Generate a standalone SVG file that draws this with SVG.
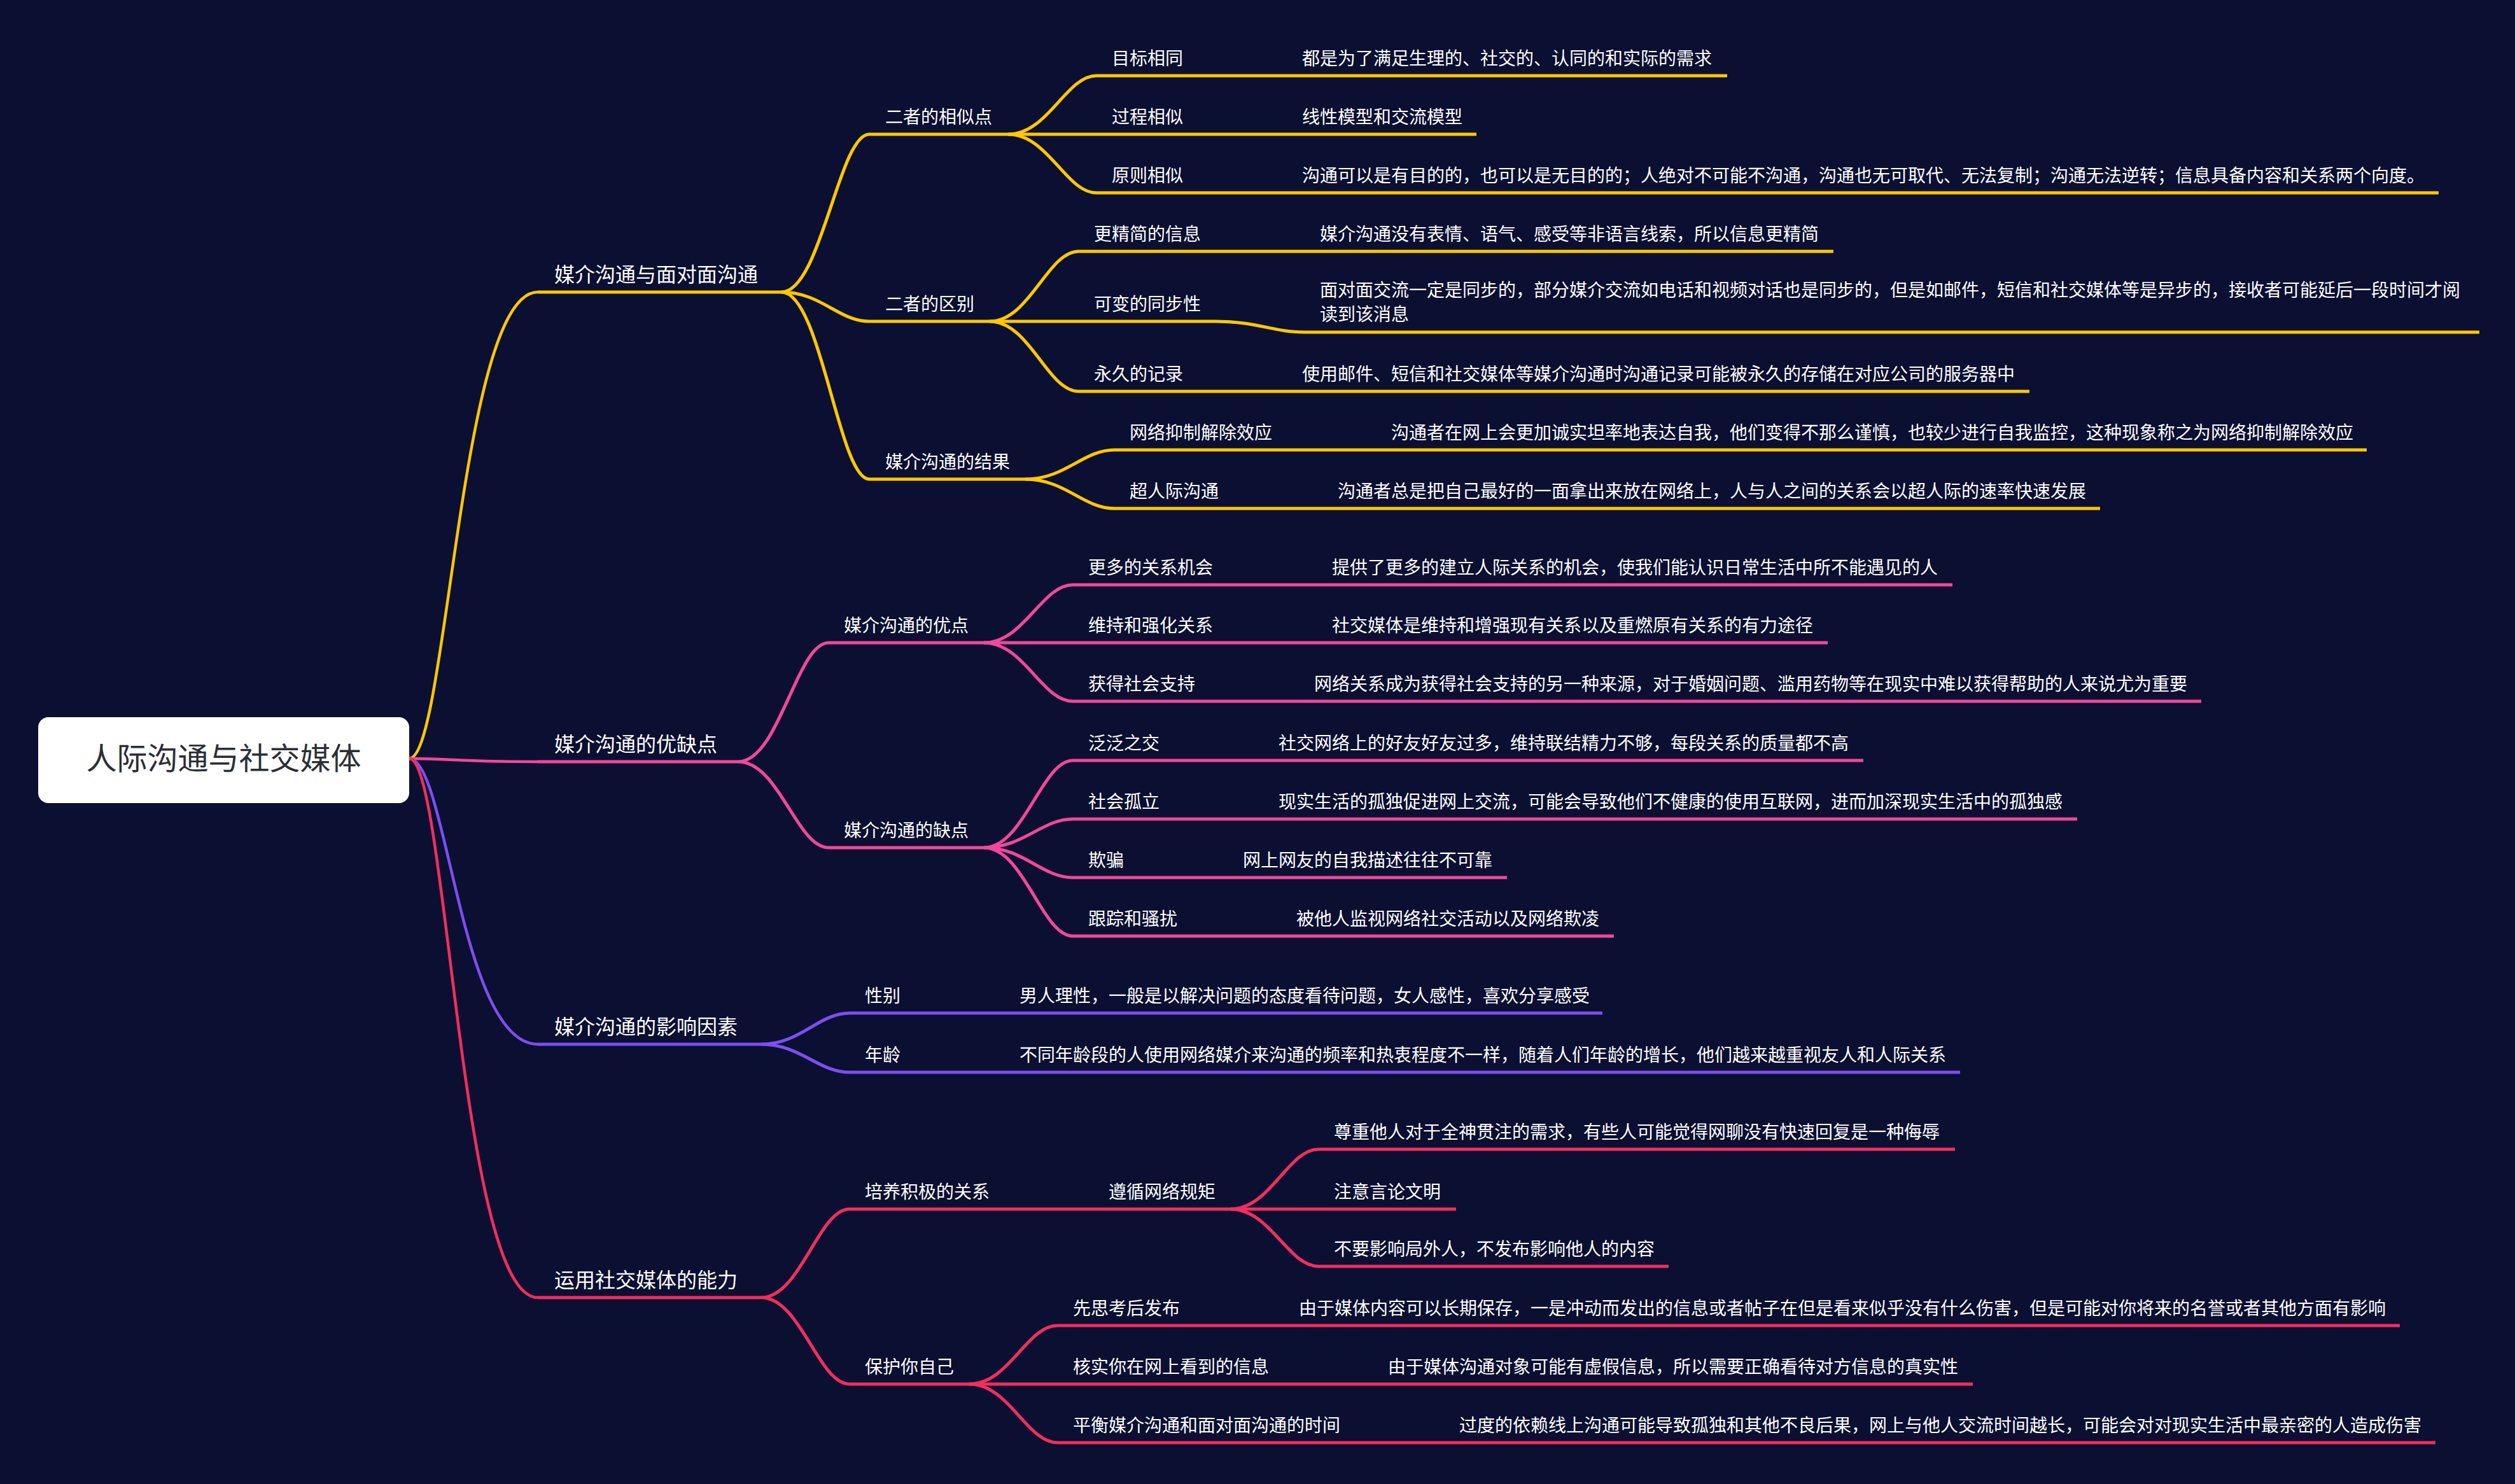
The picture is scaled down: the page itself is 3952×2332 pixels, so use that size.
<svg xmlns="http://www.w3.org/2000/svg" width="3952" height="2332" viewBox="0 0 3952 2332">
<style>
.t{font-family:"Noto Sans CJK SC","Noto Sans",sans-serif;font-size:28px;fill:#ffffff}
.l1{font-size:32px}
.rt{font-family:"Noto Sans CJK SC","Noto Sans",sans-serif;font-size:48px;fill:#2b2e35;text-anchor:middle}
.ln{fill:none;stroke-width:5}
.rc{fill:none;stroke-width:4.5}
.y{stroke:#FFC800}.p{stroke:#F2479B}.u{stroke:#7B4FF0}.r{stroke:#F22E5E}
</style>
<rect width="3952" height="2332" fill="#0B0F31"/>
<g id="connectors">
<path class="rc y" d="M643 1192C703 1192 723 459 845 459"/>
<path class="rc p" d="M643 1192C703 1192 723 1197 845 1197"/>
<path class="rc u" d="M643 1192C703 1192 723 1641 845 1641"/>
<path class="rc r" d="M643 1192C703 1192 723 2039 845 2039"/>
<path class="ln y" d="M1228 459C1290 459 1318 211 1366 211"/>
<path class="ln y" d="M1228 459C1290 459 1318 505 1366 505"/>
<path class="ln y" d="M1228 459C1290 459 1318 753 1366 753"/>
<path class="ln y" d="M1584 211C1647 211 1675 119 1723 119"/>
<path class="ln y" d="M1584 211H1723"/>
<path class="ln y" d="M1584 211C1647 211 1675 303 1723 303"/>
<path class="ln y" d="M1555 505C1618 505 1646 395 1695 395"/>
<path class="ln y" d="M1555 505H1695"/>
<path class="ln y" d="M1555 505C1618 505 1646 615 1695 615"/>
<path class="ln y" d="M1611 753C1674 753 1702 707 1751 707"/>
<path class="ln y" d="M1611 753C1674 753 1702 799 1751 799"/>
<path class="ln y" d="M1883 119H2022"/>
<path class="ln y" d="M1883 211H2022"/>
<path class="ln y" d="M1883 303H2022"/>
<path class="ln y" d="M1911 395H2050"/>
<path class="ln y" d="M1911 505C1974 505 2002 522 2050 522"/>
<path class="ln y" d="M1883 615H2022"/>
<path class="ln y" d="M2023 707H2162"/>
<path class="ln y" d="M1939 799H2078"/>
<path class="ln p" d="M1160 1197C1224 1197 1252 1010 1302 1010"/>
<path class="ln p" d="M1160 1197C1224 1197 1252 1332 1302 1332"/>
<path class="ln p" d="M1546 1010C1609 1010 1637 919 1686 919"/>
<path class="ln p" d="M1546 1010H1686"/>
<path class="ln p" d="M1546 1010C1609 1010 1637 1102 1686 1102"/>
<path class="ln p" d="M1546 1332C1609 1332 1637 1195 1686 1195"/>
<path class="ln p" d="M1546 1332C1609 1332 1637 1287 1686 1287"/>
<path class="ln p" d="M1546 1332C1609 1332 1637 1379 1686 1379"/>
<path class="ln p" d="M1546 1332C1609 1332 1637 1471 1686 1471"/>
<path class="ln p" d="M1930 919H2069"/>
<path class="ln p" d="M1930 1010H2069"/>
<path class="ln p" d="M1902 1102H2041"/>
<path class="ln p" d="M1846 1195H1985"/>
<path class="ln p" d="M1846 1287H1985"/>
<path class="ln p" d="M1790 1379H1929"/>
<path class="ln p" d="M1874 1471H2013"/>
<path class="ln u" d="M1196 1641C1258 1641 1286 1592 1335 1592"/>
<path class="ln u" d="M1196 1641C1258 1641 1286 1685 1335 1685"/>
<path class="ln u" d="M1439 1592H1578"/>
<path class="ln u" d="M1439 1685H1578"/>
<path class="ln r" d="M1196 2039C1258 2039 1286 1900 1335 1900"/>
<path class="ln r" d="M1196 2039C1258 2039 1286 2175 1335 2175"/>
<path class="ln r" d="M1579 1900H1718"/>
<path class="ln r" d="M1934 1900C1996 1900 2024 1806 2072 1806"/>
<path class="ln r" d="M1934 1900H2072"/>
<path class="ln r" d="M1934 1900C1996 1900 2024 1990 2072 1990"/>
<path class="ln r" d="M1523 2175C1586 2175 1613 2083 1662 2083"/>
<path class="ln r" d="M1523 2175H1662"/>
<path class="ln r" d="M1523 2175C1586 2175 1613 2267 1662 2267"/>
<path class="ln r" d="M1878 2083H2017"/>
<path class="ln r" d="M2018 2175H2157"/>
<path class="ln r" d="M2130 2267H2269"/>
</g>
<g id="root"><rect x="60" y="1127" width="583" height="135" rx="16" fill="#ffffff"/><text class="rt" x="351.5" y="1209">人际沟通与社交媒体</text></g>
<g id="n-y1"><path class="ln y" d="M845 459H1228"/><text class="t l1" x="871" y="443">媒介沟通与面对面沟通</text></g>
<g id="n-y2a"><path class="ln y" d="M1366 211H1584"/><text class="t" x="1391" y="194">二者的相似点</text></g>
<g id="n-y3a"><path class="ln y" d="M1723 119H1883"/><text class="t" x="1747" y="102">目标相同</text></g>
<g id="n-y3a-d"><path class="ln y" d="M2022 119H2714"/><text class="t" x="2046" y="102">都是为了满足生理的、社交的、认同的和实际的需求</text></g>
<g id="n-y3b"><path class="ln y" d="M1723 211H1883"/><text class="t" x="1747" y="194">过程相似</text></g>
<g id="n-y3b-d"><path class="ln y" d="M2022 211H2320"/><text class="t" x="2046" y="194">线性模型和交流模型</text></g>
<g id="n-y3c"><path class="ln y" d="M1723 303H1883"/><text class="t" x="1747" y="286">原则相似</text></g>
<g id="n-y3c-d"><path class="ln y" d="M2022 303H3832"/><text class="t" x="2046" y="286">沟通可以是有目的的，也可以是无目的的；人绝对不可能不沟通，沟通也无可取代、无法复制；沟通无法逆转；信息具备内容和关系两个向度。</text></g>
<g id="n-y2b"><path class="ln y" d="M1366 505H1555"/><text class="t" x="1391" y="488">二者的区别</text></g>
<g id="n-y3d"><path class="ln y" d="M1695 395H1911"/><text class="t" x="1719" y="378">更精简的信息</text></g>
<g id="n-y3d-d"><path class="ln y" d="M2050 395H2881"/><text class="t" x="2074" y="378">媒介沟通没有表情、语气、感受等非语言线索，所以信息更精简</text></g>
<g id="n-y3e"><path class="ln y" d="M1695 505H1911"/><text class="t" x="1719" y="488">可变的同步性</text></g>
<g id="n-y3e-d"><path class="ln y" d="M2050 522H3896"/><text class="t" x="2074" y="466">面对面交流一定是同步的，部分媒介交流如电话和视频对话也是同步的，但是如邮件，短信和社交媒体等是异步的，接收者可能延后一段时间才阅</text><text class="t" x="2074" y="504">读到该消息</text></g>
<g id="n-y3f"><path class="ln y" d="M1695 615H1883"/><text class="t" x="1719" y="598">永久的记录</text></g>
<g id="n-y3f-d"><path class="ln y" d="M2022 615H3189"/><text class="t" x="2046" y="598">使用邮件、短信和社交媒体等媒介沟通时沟通记录可能被永久的存储在对应公司的服务器中</text></g>
<g id="n-y2c"><path class="ln y" d="M1366 753H1611"/><text class="t" x="1391" y="736">媒介沟通的结果</text></g>
<g id="n-y3g"><path class="ln y" d="M1751 707H2023"/><text class="t" x="1775" y="690">网络抑制解除效应</text></g>
<g id="n-y3g-d"><path class="ln y" d="M2162 707H3719"/><text class="t" x="2186" y="690">沟通者在网上会更加诚实坦率地表达自我，他们变得不那么谨慎，也较少进行自我监控，这种现象称之为网络抑制解除效应</text></g>
<g id="n-y3h"><path class="ln y" d="M1751 799H1939"/><text class="t" x="1775" y="782">超人际沟通</text></g>
<g id="n-y3h-d"><path class="ln y" d="M2078 799H3300"/><text class="t" x="2102" y="782">沟通者总是把自己最好的一面拿出来放在网络上，人与人之间的关系会以超人际的速率快速发展</text></g>
<g id="n-p1"><path class="ln p" d="M845 1197H1160"/><text class="t l1" x="871" y="1181">媒介沟通的优缺点</text></g>
<g id="n-p2a"><path class="ln p" d="M1302 1010H1546"/><text class="t" x="1326" y="993">媒介沟通的优点</text></g>
<g id="n-p3a"><path class="ln p" d="M1686 919H1930"/><text class="t" x="1710" y="902">更多的关系机会</text></g>
<g id="n-p3a-d"><path class="ln p" d="M2069 919H3068"/><text class="t" x="2093" y="902">提供了更多的建立人际关系的机会，使我们能认识日常生活中所不能遇见的人</text></g>
<g id="n-p3b"><path class="ln p" d="M1686 1010H1930"/><text class="t" x="1710" y="993">维持和强化关系</text></g>
<g id="n-p3b-d"><path class="ln p" d="M2069 1010H2872"/><text class="t" x="2093" y="993">社交媒体是维持和增强现有关系以及重燃原有关系的有力途径</text></g>
<g id="n-p3c"><path class="ln p" d="M1686 1102H1902"/><text class="t" x="1710" y="1085">获得社会支持</text></g>
<g id="n-p3c-d"><path class="ln p" d="M2041 1102H3459"/><text class="t" x="2065" y="1085">网络关系成为获得社会支持的另一种来源，对于婚姻问题、滥用药物等在现实中难以获得帮助的人来说尤为重要</text></g>
<g id="n-p2b"><path class="ln p" d="M1302 1332H1546"/><text class="t" x="1326" y="1315">媒介沟通的缺点</text></g>
<g id="n-p3d"><path class="ln p" d="M1686 1195H1846"/><text class="t" x="1710" y="1178">泛泛之交</text></g>
<g id="n-p3d-d"><path class="ln p" d="M1985 1195H2928"/><text class="t" x="2009" y="1178">社交网络上的好友好友过多，维持联结精力不够，每段关系的质量都不高</text></g>
<g id="n-p3e"><path class="ln p" d="M1686 1287H1846"/><text class="t" x="1710" y="1270">社会孤立</text></g>
<g id="n-p3e-d"><path class="ln p" d="M1985 1287H3264"/><text class="t" x="2009" y="1270">现实生活的孤独促进网上交流，可能会导致他们不健康的使用互联网，进而加深现实生活中的孤独感</text></g>
<g id="n-p3f"><path class="ln p" d="M1686 1379H1790"/><text class="t" x="1710" y="1362">欺骗</text></g>
<g id="n-p3f-d"><path class="ln p" d="M1929 1379H2368"/><text class="t" x="1953" y="1362">网上网友的自我描述往往不可靠</text></g>
<g id="n-p3g"><path class="ln p" d="M1686 1471H1874"/><text class="t" x="1710" y="1454">跟踪和骚扰</text></g>
<g id="n-p3g-d"><path class="ln p" d="M2013 1471H2536"/><text class="t" x="2037" y="1454">被他人监视网络社交活动以及网络欺凌</text></g>
<g id="n-u1"><path class="ln u" d="M845 1641H1196"/><text class="t l1" x="871" y="1625">媒介沟通的影响因素</text></g>
<g id="n-u2a"><path class="ln u" d="M1335 1592H1439"/><text class="t" x="1359" y="1575">性别</text></g>
<g id="n-u2a-d"><path class="ln u" d="M1578 1592H2518"/><text class="t" x="1602" y="1575">男人理性，一般是以解决问题的态度看待问题，女人感性，喜欢分享感受</text></g>
<g id="n-u2b"><path class="ln u" d="M1335 1685H1439"/><text class="t" x="1359" y="1668">年龄</text></g>
<g id="n-u2b-d"><path class="ln u" d="M1578 1685H3080"/><text class="t" x="1602" y="1668">不同年龄段的人使用网络媒介来沟通的频率和热衷程度不一样，随着人们年龄的增长，他们越来越重视友人和人际关系</text></g>
<g id="n-r1"><path class="ln r" d="M845 2039H1196"/><text class="t l1" x="871" y="2023">运用社交媒体的能力</text></g>
<g id="n-r2a"><path class="ln r" d="M1335 1900H1579"/><text class="t" x="1359" y="1883">培养积极的关系</text></g>
<g id="n-r3a"><path class="ln r" d="M1718 1900H1934"/><text class="t" x="1742" y="1883">遵循网络规矩</text></g>
<g id="n-r4a"><path class="ln r" d="M2072 1806H3072"/><text class="t" x="2096" y="1789">尊重他人对于全神贯注的需求，有些人可能觉得网聊没有快速回复是一种侮辱</text></g>
<g id="n-r4b"><path class="ln r" d="M2072 1900H2288"/><text class="t" x="2096" y="1883">注意言论文明</text></g>
<g id="n-r4c"><path class="ln r" d="M2072 1990H2622"/><text class="t" x="2096" y="1973">不要影响局外人，不发布影响他人的内容</text></g>
<g id="n-r2b"><path class="ln r" d="M1335 2175H1523"/><text class="t" x="1359" y="2158">保护你自己</text></g>
<g id="n-r3b"><path class="ln r" d="M1662 2083H1878"/><text class="t" x="1686" y="2066">先思考后发布</text></g>
<g id="n-r3b-d"><path class="ln r" d="M2017 2083H3771"/><text class="t" x="2041" y="2066">由于媒体内容可以长期保存，一是冲动而发出的信息或者帖子在但是看来似乎没有什么伤害，但是可能对你将来的名誉或者其他方面有影响</text></g>
<g id="n-r3c"><path class="ln r" d="M1662 2175H2018"/><text class="t" x="1686" y="2158">核实你在网上看到的信息</text></g>
<g id="n-r3c-d"><path class="ln r" d="M2157 2175H3100"/><text class="t" x="2181" y="2158">由于媒体沟通对象可能有虚假信息，所以需要正确看待对方信息的真实性</text></g>
<g id="n-r3d"><path class="ln r" d="M1662 2267H2130"/><text class="t" x="1686" y="2250">平衡媒介沟通和面对面沟通的时间</text></g>
<g id="n-r3d-d"><path class="ln r" d="M2269 2267H3827"/><text class="t" x="2293" y="2250">过度的依赖线上沟通可能导致孤独和其他不良后果，网上与他人交流时间越长，可能会对对现实生活中最亲密的人造成伤害</text></g>
</svg>
